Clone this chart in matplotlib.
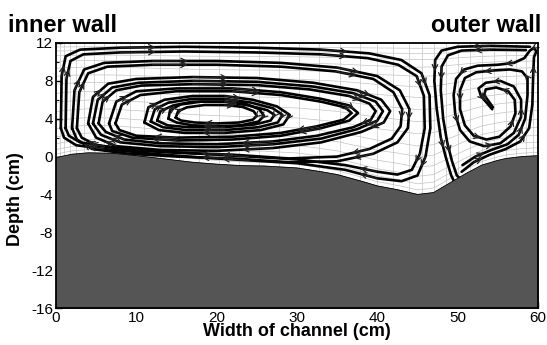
import matplotlib
matplotlib.use("Agg")
import matplotlib.pyplot as plt
import numpy as np

plt.rcParams["font.family"] = ["Liberation Sans", "DejaVu Sans"]
plt.rcParams["axes.unicode_minus"] = False

# Bed profile across the channel (cm)
BED_X = [0, 2, 4, 7, 10, 14, 17, 20, 23, 26, 30, 33, 35, 38, 40, 42.5, 45, 47, 49, 51, 53, 55, 56, 58, 60]
BED_Y = [-0.1, 0.25, 0.4, 0.35, 0.1, -0.3, -0.6, -0.8, -0.95, -1.0, -1.2, -1.6, -1.9, -2.6, -3.1, -3.5, -4.0, -3.8, -2.8, -1.8, -0.9, -0.4, -0.2, 0.0, 0.1]

# Streamlines of the main (inner-bank) cell, clockwise
CELL_A1 = [(14.0, 4.0), (14.2, 4.9), (15.5, 5.5), (18, 5.8), (21, 5.8), (23.5, 5.6), (25.3, 5.0),
           (25.9, 4.3), (25.2, 3.7), (23, 3.3), (20, 3.2), (17, 3.3), (15, 3.6), (14.0, 4.0)]
CELL_A2 = [(14.9, 4.1), (15.2, 4.8), (16.3, 5.2), (18.5, 5.45), (21, 5.45), (23.2, 5.25), (24.6, 4.8),
           (25.0, 4.3), (24.5, 3.9), (22.8, 3.6), (20, 3.5), (17.3, 3.6), (15.6, 3.8), (14.9, 4.1)]
CELL_B1 = [(11.0, 3.6), (11.5, 5.2), (13.5, 6.0), (17, 6.4), (21, 6.4), (24.5, 6.0), (27.5, 5.3),
           (29.1, 4.4), (28.3, 3.4), (25.5, 2.8), (21, 2.5), (16, 2.5), (12.8, 2.8), (11.0, 3.6)]
CELL_B2 = [(11.8, 3.7), (12.3, 5.0), (14, 5.7), (17, 6.1), (21, 6.1), (24.3, 5.7), (27.0, 5.1),
           (28.2, 4.4), (27.6, 3.6), (25.2, 3.1), (21, 2.8), (16.2, 2.8), (13.3, 3.1), (11.8, 3.7)]
CELL_B3 = [(12.6, 3.8), (13.0, 4.8), (14.6, 5.4), (17, 5.8), (21, 5.8), (24, 5.4), (26.3, 4.9),
           (27.2, 4.4), (26.7, 3.8), (24.8, 3.4), (21, 3.1), (16.5, 3.1), (13.9, 3.3), (12.6, 3.8)]
CELL_C1 = [(6.6, 3.5), (7.5, 5.8), (10, 6.9), (15, 7.2), (22, 7.2), (28, 6.8), (33, 6.1), (36.5, 5.4),
           (37.6, 4.6), (36.5, 3.8), (33, 3.0), (28, 2.2), (22, 1.8), (15, 1.7), (9.5, 2.0), (7.0, 2.7), (6.6, 3.5)]
CELL_C2 = [(7.4, 3.5), (8.2, 5.5), (10.5, 6.5), (15, 6.9), (22, 6.9), (28, 6.5), (33, 5.8), (36, 5.2),
           (36.8, 4.6), (35.8, 3.9), (32.5, 3.2), (28, 2.5), (22, 2.1), (15, 2.0), (10, 2.2), (7.9, 2.8), (7.4, 3.5)]
CELL_D1 = [(4.0, 3.5), (4.6, 6.3), (6.5, 7.7), (10, 8.2), (17, 8.4), (25, 8.3), (32, 7.8), (37.5, 7.0),
           (40.5, 6.0), (41.6, 4.8), (40.8, 3.6), (38, 2.6), (33, 1.5), (27, 0.9), (20, 0.6), (13, 0.7),
           (7.5, 1.1), (5, 2.0), (4.0, 3.5)]
CELL_D2 = [(4.6, 3.5), (5.2, 6.0), (7, 7.3), (10.3, 7.8), (17, 8.0), (25, 7.9), (32, 7.4), (37, 6.7),
           (39.8, 5.8), (40.7, 4.8), (40.0, 3.8), (37.5, 2.9), (33, 1.9), (27, 1.3), (20, 1.0), (13, 1.1),
           (8, 1.5), (5.6, 2.3), (4.6, 3.5)]
CELL_D3 = [(5.3, 3.5), (5.8, 5.8), (7.5, 7.0), (10.6, 7.5), (17, 7.65), (25, 7.55), (31.5, 7.1), (36.5, 6.4),
           (39.0, 5.6), (39.8, 4.8), (39.2, 3.9), (37, 3.1), (32.5, 2.2), (27, 1.6), (20, 1.3), (13, 1.4),
           (8.5, 1.8), (6.2, 2.6), (5.3, 3.5)]
CELL_E1 = [(2.0, 3.0), (2.3, 7.0), (3.5, 9.2), (6, 9.9), (12, 10.1), (20, 10.1), (28, 9.9), (35, 9.4),
           (40, 8.5), (42.8, 7.0), (44.0, 5.0), (43.8, 3.0), (42.5, 1.5), (39.5, 0.3), (35, -0.5),
           (29, -0.6), (22, -0.2), (15, 0.0), (9, 0.3), (4.5, 0.8), (2.6, 1.8), (2.0, 3.0)]
CELL_E2 = [(2.6, 3.0), (2.9, 6.8), (4.0, 8.8), (6.4, 9.5), (12, 9.7), (20, 9.7), (28, 9.5), (34.8, 9.0),
           (39.5, 8.2), (42.0, 6.8), (43.1, 5.0), (42.9, 3.2), (41.8, 1.9), (39, 0.8), (35, 0.0),
           (29, -0.2), (22, 0.2), (15, 0.4), (9, 0.7), (5, 1.2), (3.2, 2.0), (2.6, 3.0)]
CELL_F1 = [(0.6, 3.0), (0.7, 8.5), (1.2, 10.6), (3, 11.3), (8, 11.5), (16, 11.6), (25, 11.5), (33, 11.3),
           (39, 10.9), (43, 10.2), (45.5, 8.8), (46.5, 6.5), (46.6, 3.0), (46.0, 0.0), (45.0, -2.0),
           (43, -2.6), (40, -2.3), (36, -1.4), (30, -0.7), (24, -0.4), (18, -0.1), (12, 0.3), (6, 0.8),
           (2.5, 1.2), (1.0, 2.0), (0.6, 3.0)]
CELL_F2 = [(1.2, 3.0), (1.3, 8.2), (1.8, 10.1), (3.4, 10.8), (8, 11.0), (16, 11.1), (25, 11.0), (33, 10.8),
           (38.8, 10.4), (42.6, 9.7), (44.9, 8.5), (45.8, 6.4), (45.9, 3.0), (45.3, 0.3), (44.3, -1.4),
           (42.5, -1.9), (40, -1.6), (36, -0.9), (30, -0.3), (24, 0.0), (18, 0.3), (12, 0.6), (6, 1.1),
           (3, 1.5), (1.6, 2.2), (1.2, 3.0)]

# Streamlines of the outer-bank cell
CELL_G1 = [(59.0, 11.6), (54, 11.7), (50, 11.6), (48.0, 11.2), (47.2, 10.2), (47.1, 8), (47.4, 5),
           (47.9, 2), (48.5, 0), (49.2, -2.0), (49.6, -2.7)]
CELL_G2 = [(58.5, 11.25), (54, 11.3), (50.5, 11.2), (48.8, 10.7), (48.0, 9.5), (47.9, 7), (48.2, 4),
           (48.7, 1.5), (49.3, -0.5), (49.9, -2.0), (50.4, -2.4)]
CELL_S1 = [(50.5, -1.6), (52, -0.6), (54, 0.2), (56, 0.8), (57.8, 1.6), (58.9, 3.0), (59.3, 5.5),
           (59.4, 8.5), (59.5, 10.5), (59.8, 11.1), (59.5, 11.5), (59.0, 11.2), (58.3, 10.4), (57, 9.9),
           (55, 9.7), (52.5, 9.6), (50.8, 9.2), (49.8, 8.2), (49.5, 6.5), (49.7, 4.5), (50.3, 2.8),
           (51.5, 1.6), (53.3, 1.1), (55.3, 1.4), (57.0, 2.5), (57.9, 4.2), (57.9, 6.0), (57.0, 7.4),
           (55.3, 8.0), (53.5, 7.8), (52.6, 7.2), (52.9, 6.4), (53.7, 5.6), (54.3, 5.0)]
CELL_S2 = [(50.6, -0.9), (52.2, 0.0), (54.2, 0.7), (56.2, 1.3), (57.6, 2.3), (58.4, 4.0), (58.7, 6.5),
           (58.7, 8.3), (58.0, 9.0), (56.5, 9.2), (54.5, 9.1), (52.3, 8.9), (50.9, 8.3), (50.3, 7.0),
           (50.3, 5.0), (50.9, 3.3), (52.0, 2.2), (53.6, 1.8), (55.2, 2.1), (56.6, 3.2), (57.2, 4.6),
           (57.1, 6.0), (56.3, 6.9), (54.8, 7.3), (53.5, 7.1), (53.3, 6.5), (53.9, 5.8), (54.4, 5.2)]

STREAMLINES = [CELL_A1, CELL_A2, CELL_B1, CELL_B2, CELL_B3, CELL_C1, CELL_C2, CELL_D1, CELL_D2,
               CELL_D3, CELL_E1, CELL_E2, CELL_F1, CELL_F2, CELL_G1, CELL_G2, CELL_S1, CELL_S2]

# Computational mesh columns (cm) and sigma levels
MESH_X = [0.5, 1, 1.7, 2.5, 3.5, 4.7, 6, 7.5, 9.2, 11, 13, 15.3, 17.8, 20.3, 22.8, 25.3, 27.8, 30.3,
          32.8, 35.3, 37.8, 40, 42, 44, 45.5, 47, 48.5, 50, 51.5, 53, 54.5, 56, 57.3, 58.5, 59.4]
SIGMA = [0.03, 0.07, 0.12, 0.18, 0.25, 0.32, 0.4, 0.48, 0.56, 0.64, 0.71, 0.78, 0.84, 0.89, 0.93, 0.965]

TOP = 12

fig = plt.figure(figsize=(5.47, 3.45), dpi=100)
ax = fig.add_axes([0.1024, 0.1072, 0.8811, 0.7682])

# mesh
bx = np.array(BED_X)
by = np.array(BED_Y)
for mx in MESH_X:
    ax.plot([mx, mx], [-16, TOP], color="#c4c4c4", lw=0.5, zorder=1)
for s in SIGMA:
    ax.plot(bx, by + s * (TOP - by), color="#c4c4c4", lw=0.5, zorder=1)

# streamlines with arrowheads
for line in STREAMLINES:
    pts = np.array(line)
    ax.plot(pts[:, 0], pts[:, 1], color="black", lw=1.9, solid_capstyle="round",
            solid_joinstyle="round", zorder=2)
    for i in range(1, len(pts) - 1, 3):
        p0, p1 = pts[i], pts[i + 1]
        mid = p0 + 0.55 * (p1 - p0)
        ax.annotate("", xy=mid, xytext=p0,
                    arrowprops=dict(arrowstyle="->", color="#222222", lw=0.9,
                                    mutation_scale=10, shrinkA=0, shrinkB=0),
                    zorder=3)

# bed
ax.fill_between(BED_X, BED_Y, -16, color="#555555", zorder=4)
ax.plot(BED_X, BED_Y, color="black", lw=0.6, zorder=4)

ax.set_xlim(0, 60)
ax.set_ylim(-16, 12)
ax.set_xticks(range(0, 61, 10))
ax.set_yticks(range(-16, 13, 4))
ax.set_xticks(range(5, 60, 10), minor=True)
ax.set_yticks(range(-14, 12, 4), minor=True)
ax.tick_params(direction="in", length=4, width=1, labelsize=11, pad=2)
ax.tick_params(which="minor", direction="in", length=2.5, width=0.8)
for sp in ax.spines.values():
    sp.set_linewidth(1.3)
    sp.set_zorder(5)

ax.set_xlabel("Width of channel (cm)", fontsize=13, fontweight="bold", labelpad=-1)
ax.set_ylabel("Depth (cm)", fontsize=13, fontweight="bold")
ax.yaxis.set_label_coords(-0.066, 0.41)

fig.text(0.0146, 0.908, "inner wall", fontsize=17, fontweight="bold", ha="left", va="baseline")
fig.text(0.989, 0.908, "outer wall", fontsize=17, fontweight="bold", ha="right", va="baseline")

fig.savefig("out.png", dpi=100)
